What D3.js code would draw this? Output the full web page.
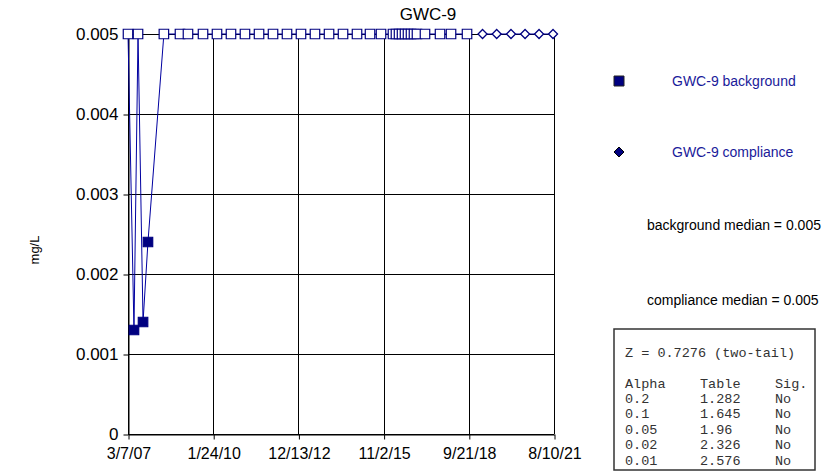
<!DOCTYPE html>
<html lang="en">
  <head>
    <meta charset="UTF-8" />
    <title>GWC-9</title>
    <script src="https://d3js.org/d3.v7.min.js"></script>
    <style>
      body { margin: 0; background: #fff; }
      text { font-family: Arial, "Liberation Sans", sans-serif; }
      text.mono { font-family: "Liberation Mono", "Courier New", monospace; }
    </style>
  </head>

  <body>
    <svg width="839" height="473"></svg>

    <script>
      // background samples (value 0.005 = reporting limit, drawn hollow)
      const bgDates = [
        "2007-03-07", "2007-05-20", "2007-07-09", "2007-09-09", "2007-11-09",
        "2008-05-24", "2008-12-09", "2009-03-18", "2009-09-20", "2010-03-12",
        "2010-09-01", "2011-02-21", "2011-08-14", "2012-02-03", "2012-07-25",
        "2013-01-14", "2013-07-06", "2013-12-27", "2014-06-18", "2014-12-08",
        "2015-05-18", "2015-10-01", "2016-02-26", "2016-04-03", "2016-05-11",
        "2016-06-17", "2016-07-24", "2016-08-30", "2016-10-06", "2016-11-12",
        "2016-12-19", "2017-03-28", "2017-09-30", "2018-02-13", "2018-08-30"
      ];
      const bgValues = [
        0.005, 0.0013, 0.005, 0.0014, 0.0024,
        0.005, 0.005, 0.005, 0.005, 0.005,
        0.005, 0.005, 0.005, 0.005, 0.005,
        0.005, 0.005, 0.005, 0.005, 0.005,
        0.005, 0.005, 0.005, 0.005, 0.005,
        0.005, 0.005, 0.005, 0.005, 0.005,
        0.005, 0.005, 0.005, 0.005, 0.005
      ];

      // compliance samples
      const cmDates = [
        "2019-03-10", "2019-09-01", "2020-02-25", "2020-08-17", "2021-02-06", "2021-07-29"
      ];
      const cmValues = [0.005, 0.005, 0.005, 0.005, 0.005, 0.005];

      const reportingLimit = 0.005;

      const xTickLabels = ["3/7/07", "1/24/10", "12/13/12", "11/2/15", "9/21/18", "8/10/21"];
      const yTicks = [0, 0.001, 0.002, 0.003, 0.004, 0.005];

      const statsHeader = "Z = 0.7276 (two-tail)";
      const statsCols = ["Alpha", "Table", "Sig."];
      const alphas = ["0.2", "0.1", "0.05", "0.02", "0.01"];
      const tableVals = ["1.282", "1.645", "1.96", "2.326", "2.576"];
      const sigVals = ["No", "No", "No", "No", "No"];

      const medians = ["background median = 0.005", "compliance median = 0.005"];

      const navy = "#000080";
      const lineBlue = "#0000a0";

      let svg = d3.select("svg");
      const parseIso = d3.timeParse("%Y-%m-%d");
      const parseTick = d3.timeParse("%-m/%-d/%y");
      const xTickDates = xTickLabels.map(parseTick);

      const x = d3
        .scaleTime()
        .domain([xTickDates[0], xTickDates[xTickDates.length - 1]])
        .range([128, 554]);
      const y = d3.scaleLinear().domain([0, 0.005]).range([434, 34]);

      const bg = bgDates.map((d, i) => ({ date: parseIso(d), value: bgValues[i] }));
      const cm = cmDates.map((d, i) => ({ date: parseIso(d), value: cmValues[i] }));

      // diamond = square turned 45 degrees, half-diagonal r
      const diamondPath = (r) => `M0,${-r}L${r},0L0,${r}L${-r},0Z`;

      // gridlines
      const grid = svg.append("g").attr("stroke", "#000").attr("stroke-width", 1);
      grid
        .selectAll("line.h")
        .data(yTicks)
        .enter()
        .append("line")
        .attr("x1", x.range()[0])
        .attr("x2", x.range()[1])
        .attr("y1", (d) => Math.round(y(d)) + 0.5)
        .attr("y2", (d) => Math.round(y(d)) + 0.5);
      grid
        .selectAll("line.v")
        .data(xTickDates)
        .enter()
        .append("line")
        .attr("x1", (d) => Math.round(x(d)) + 0.5)
        .attr("x2", (d) => Math.round(x(d)) + 0.5)
        .attr("y1", y.range()[1])
        .attr("y2", y.range()[0]);

      // axes
      const yAxis = svg
        .append("g")
        .attr("transform", "translate(128.5,0.5)")
        .call(
          d3
            .axisLeft(y)
            .tickValues(yTicks)
            .tickSize(5)
            .tickSizeOuter(0)
            .tickFormat((d) => (d === 0 ? "0" : d3.format(".3f")(d)))
        );
      yAxis.selectAll("text").attr("font-size", 17).attr("fill", "#000").attr("dy", "0.3em").attr("x", -10);
      yAxis.selectAll("line, path").attr("stroke", "#000");
      yAxis.attr("font-family", null);

      const xAxis = svg
        .append("g")
        .attr("transform", "translate(0.5,434.5)")
        .call(
          d3
            .axisBottom(x)
            .tickValues(xTickDates)
            .tickSize(5)
            .tickSizeOuter(0)
            .tickFormat((d, i) => xTickLabels[i])
        );
      xAxis.selectAll("text").attr("font-size", 16).attr("fill", "#000").attr("y", 13);
      xAxis.selectAll("line, path").attr("stroke", "#000");
      xAxis.attr("font-family", null);

      // series lines
      const line = d3
        .line()
        .x((d) => x(d.date))
        .y((d) => y(d.value));
      [bg, cm].forEach((s) => {
        svg
          .append("path")
          .datum(s)
          .attr("d", line)
          .attr("fill", "none")
          .attr("stroke", lineBlue)
          .attr("stroke-width", 1);
      });

      // markers
      const square = d3.symbol().type(d3.symbolSquare).size(90);
      svg
        .append("g")
        .selectAll("path")
        .data(bg)
        .enter()
        .append("path")
        .attr("d", square)
        .attr("transform", (d) => `translate(${x(d.date)},${y(d.value)})`)
        .attr("fill", (d) => (d.value >= reportingLimit ? "#fff" : navy))
        .attr("stroke", navy)
        .attr("stroke-width", 1.2);
      svg
        .append("g")
        .selectAll("path")
        .data(cm)
        .enter()
        .append("path")
        .attr("d", diamondPath(4.5))
        .attr("transform", (d) => `translate(${x(d.date)},${y(d.value)})`)
        .attr("fill", (d) => (d.value >= reportingLimit ? "#fff" : navy))
        .attr("stroke", navy)
        .attr("stroke-width", 1.3);

      // title and axis label
      svg
        .append("text")
        .attr("x", 428)
        .attr("y", 20)
        .attr("text-anchor", "middle")
        .attr("font-size", 17)
        .text("GWC-9");
      svg
        .append("text")
        .attr("transform", "translate(39,250) rotate(-90)")
        .attr("text-anchor", "middle")
        .attr("font-size", 13)
        .text("mg/L");

      // legend
      const legend = svg.append("g");
      legend
        .append("path")
        .attr("d", d3.symbol().type(d3.symbolSquare).size(100))
        .attr("transform", "translate(619,81)")
        .attr("fill", navy)
        .attr("stroke", "#222");
      legend
        .append("path")
        .attr("d", diamondPath(5))
        .attr("transform", "translate(619,152)")
        .attr("fill", navy)
        .attr("stroke", "#000");
      legend
        .selectAll("text.series")
        .data(["GWC-9 background", "GWC-9 compliance"])
        .enter()
        .append("text")
        .attr("x", 672)
        .attr("y", (d, i) => (i === 0 ? 86 : 157))
        .attr("font-size", 14)
        .attr("fill", "#1a1a9a")
        .text((d) => d);
      legend
        .selectAll("text.median")
        .data(medians)
        .enter()
        .append("text")
        .attr("x", 647)
        .attr("y", (d, i) => (i === 0 ? 230 : 305))
        .attr("font-size", 14)
        .attr("fill", "#000")
        .text((d) => d);

      // stats box
      const box = svg.append("g");
      box
        .append("rect")
        .attr("x", 614)
        .attr("y", 329)
        .attr("width", 201)
        .attr("height", 141)
        .attr("fill", "#fff")
        .attr("stroke", "#333")
        .attr("stroke-width", 1.5);
      const addMono = (txt, xx, yy) =>
        box
          .append("text")
          .attr("class", "mono")
          .attr("x", xx)
          .attr("y", yy)
          .attr("font-size", 13.5)
          .attr("fill", "#333")
          .text(txt);
      addMono(statsHeader, 625, 357);
      const colX = [625, 700, 775];
      statsCols.forEach((c, i) => addMono(c, colX[i], 388));
      alphas.forEach((a, r) => {
        const yy = 403 + r * 15.4;
        addMono(a, colX[0], yy);
        addMono(tableVals[r], colX[1], yy);
        addMono(sigVals[r], colX[2], yy);
      });
    </script>
  </body>
</html>
